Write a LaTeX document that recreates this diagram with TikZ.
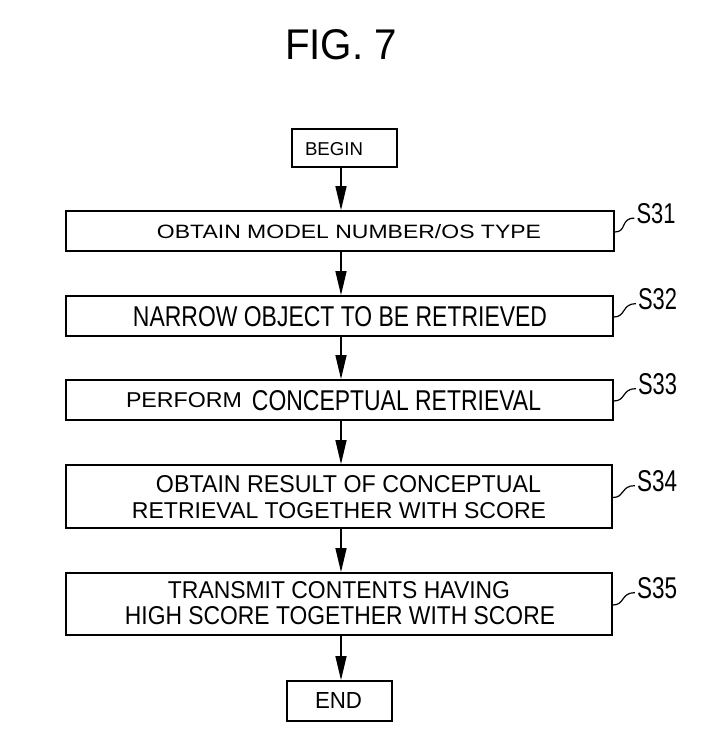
\documentclass[tikz,border=0pt]{standalone}
\usepackage{fontspec}
\setmainfont{Liberation Sans}
\usetikzlibrary{arrows.meta,calc}
\newcommand{\fitt}[3]{\resizebox{#1pt}{#2pt}{#3}}
\tikzset{
  box/.style={draw, line width=1.8pt, rectangle, inner sep=0pt},
  txt/.style={anchor=base, inner sep=0pt},
  arr/.style={line width=1.5pt, -{Triangle[width=11pt,length=24pt]}},
  squig/.style={line width=1.2pt},
}
\begin{document}
\begin{tikzpicture}[x=1pt,y=-1pt]
\useasboundingbox (0,0) rectangle (715,746);
% title
\node[txt] (title) at (341,60) {\fitt{112}{30}{FIG. 7}};
% boxes
\node[box, minimum width=105pt, minimum height=38pt] (begin) at (344.5,148) {};
\node[box, minimum width=548pt, minimum height=40pt] (s31) at (340,231) {};
\node[box, minimum width=547pt, minimum height=40pt] (s32) at (339.5,316) {};
\node[box, minimum width=547pt, minimum height=40pt] (s33) at (339.5,400) {};
\node[box, minimum width=546pt, minimum height=63pt] (s34) at (339,496.5) {};
\node[box, minimum width=546pt, minimum height=62pt] (s35) at (339,604) {};
\node[box, minimum width=105pt, minimum height=40pt] (end) at (339.5,701) {};
% texts
\node[txt] (tbegin) at (334,156) {\fitt{58}{13}{BEGIN}};
\node[txt] (t31) at (349,238) {\fitt{384}{14}{OBTAIN MODEL NUMBER/OS TYPE}};
\node[txt] (t32) at (340,326) {\fitt{414}{20}{NARROW OBJECT TO BE RETRIEVED}};
\node[txt] (t33a) at (184,407) {\fitt{116}{15}{PERFORM}};
\node[txt] (t33b) at (396.5,410) {\fitt{289}{20}{CONCEPTUAL RETRIEVAL}};
\node[txt] (t34a) at (348.5,492) {\fitt{385}{17}{OBTAIN RESULT OF CONCEPTUAL}};
\node[txt] (t34b) at (339,518) {\fitt{414}{16}{RETRIEVAL TOGETHER WITH SCORE}};
\node[txt] (t35a) at (339,598) {\fitt{342}{17}{TRANSMIT CONTENTS HAVING}};
\node[txt] (t35b) at (340,624) {\fitt{430}{18}{HIGH SCORE TOGETHER WITH SCORE}};
\node[txt] (tend) at (338.5,708) {\fitt{47}{16}{END}};
% labels
\node[txt] (l31) at (656,223) {\fitt{39}{20}{S31}};
\node[txt] (l32) at (657.5,309) {\fitt{39}{21}{S32}};
\node[txt] (l33) at (657.5,394) {\fitt{39}{21}{S33}};
\node[txt] (l34) at (657,491) {\fitt{40}{21}{S34}};
\node[txt] (l35) at (657,598) {\fitt{40}{21}{S35}};
% arrows
\coordinate (ax) at (341,0);
\draw[arr] (begin.south -| ax) -- (s31.north -| ax);
\draw[arr] (s31.south -| ax) -- (s32.north -| ax);
\draw[arr] (s32.south -| ax) -- (s33.north -| ax);
\draw[arr] (s33.south -| ax) -- (s34.north -| ax);
\draw[arr] (s34.south -| ax) -- (s35.north -| ax);
\draw[arr] (s35.south -| ax) -- (end.north -| ax);
% squiggles
\foreach \b/\l in {s31/l31, s32/l32, s33/l33, s34/l34, s35/l35}{
  \draw[squig] ($(\b.east)+(0,1)$) .. controls ($(\b.east)+(12,1)$) and ($(\l.west)+(-16,5)$) .. ($(\l.west)+(-2,5)$);
}
\end{tikzpicture}
\end{document}
